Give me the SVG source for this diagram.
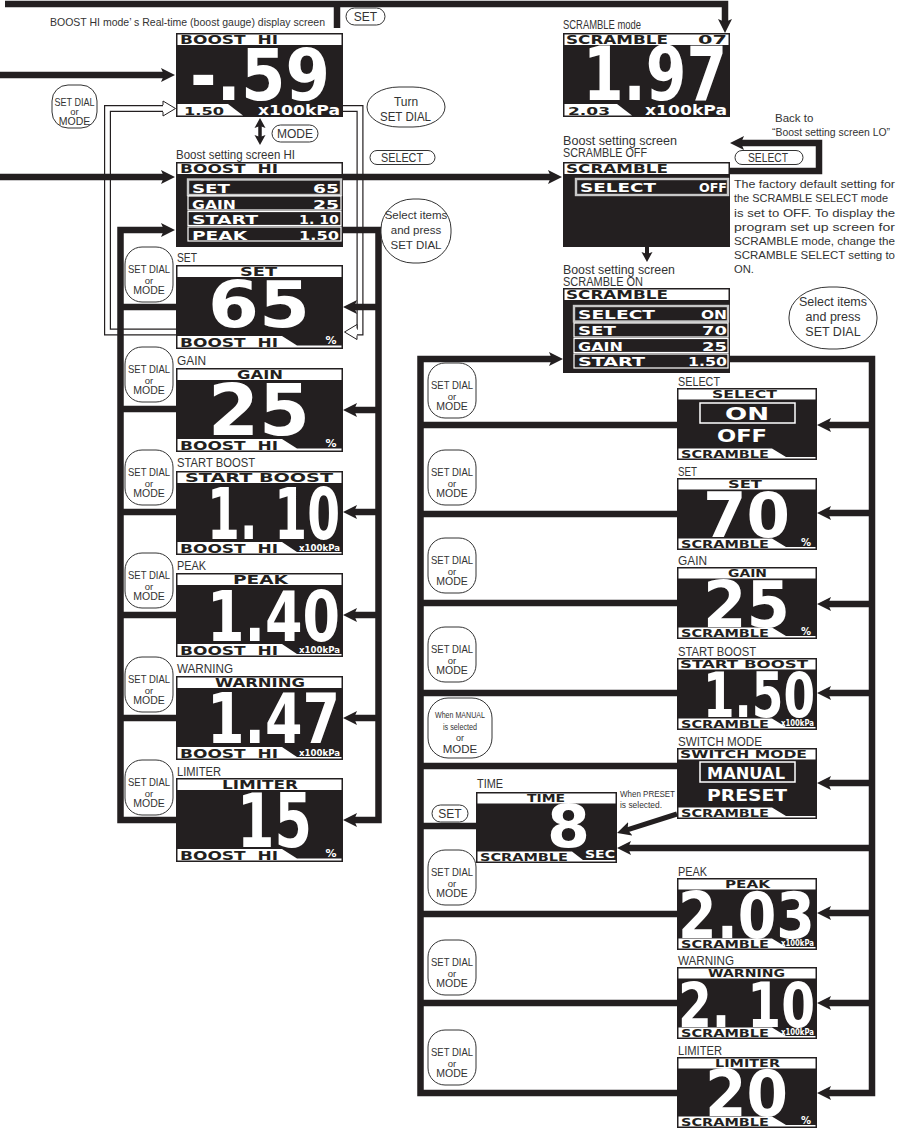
<svg xmlns="http://www.w3.org/2000/svg" width="900" height="1129" viewBox="0 0 900 1129">
<defs>
<style>
.scr{fill:#231f20}
.wh{fill:#fff}
.hk{fill:#231f20}
.lcd{font-family:"DejaVu Sans","Liberation Sans",sans-serif;font-weight:bold}
.big{font-family:"DejaVu Sans","Liberation Sans",sans-serif;font-weight:bold;fill:#fff}
.lb{font-family:"Liberation Sans",Arial,sans-serif;font-size:12px;fill:#333}
.bt{font-family:"Liberation Sans",Arial,sans-serif;font-size:10.5px;fill:#333;text-anchor:middle}
.bub{fill:#fff;stroke:#333;stroke-width:1}
.ln{fill:none;stroke:#231f20;stroke-width:6.5}
.dbo{fill:none;stroke:#231f20;stroke-width:7}
.dbi{fill:none;stroke:#fff;stroke-width:4.6}
.row{fill:#231f20;stroke:#fff;stroke-width:1.2}
.rowh{fill:#231f20;stroke:#c8c8c8;stroke-width:2.4}
.wl{fill:none;stroke:#fff;stroke-width:1.5}
</style>
<marker id="ah" markerUnits="userSpaceOnUse" markerWidth="16" markerHeight="16" viewBox="0 0 16 16" refX="5" refY="8" orient="auto"><path d="M0,1 L14,8 L0,15 L3,8 z" fill="#231f20"/></marker>
<marker id="ahs" markerUnits="userSpaceOnUse" markerWidth="12" markerHeight="12" viewBox="0 0 12 12" refX="4" refY="6" orient="auto-start-reverse"><path d="M0,0.5 L10,6 L0,11.5 L2,6 z" fill="#231f20"/></marker>
<marker id="hah" markerUnits="userSpaceOnUse" markerWidth="15" markerHeight="17" viewBox="0 0 15 17" refX="1" refY="8.5" orient="auto"><path d="M1,5 V1 L13.5,8.5 L1,16 V12" fill="#fff" stroke="#231f20" stroke-width="1"/></marker>
</defs>
<rect width="900" height="1129" fill="#fff"/>

<g id="connectors">
<path class="dbo" d="M176,332 H107.5 V108.5 H163"/>
<path class="dbi" d="M176,332 H107.5 V108.5 H163" marker-end="url(#hah)"/>
<path class="dbo" d="M343,108.5 H360 V332 H357"/>
<path class="dbi" d="M343,108.5 H360 V332 H357" marker-end="url(#hah)"/>
<path class="ln" d="M5,4 H725 V24" marker-end="url(#ah)"/>
<path class="ln" d="M337,4 V28"/>
<path class="ln" d="M0,75 H166" marker-end="url(#ah)"/>
<path class="ln" d="M0,177 H166" marker-end="url(#ah)"/>
<path class="ln" d="M343,177 H553" marker-end="url(#ah)"/>
<path class="ln" d="M176,820 H120.5 V230 H166" marker-end="url(#ah)"/>
<path class="ln" d="M176,307 H120.5 M176,409 H120.5 M176,512 H120.5 M176,615 H120.5 M176,718 H120.5"/>
<path class="ln" d="M343,230 H378.5 V820 H352" marker-end="url(#ah)"/>
<path class="ln" d="M378.5,307 H352" marker-end="url(#ah)"/>
<path class="ln" d="M378.5,410 H352" marker-end="url(#ah)"/>
<path class="ln" d="M378.5,512 H352" marker-end="url(#ah)"/>
<path class="ln" d="M378.5,615 H352" marker-end="url(#ah)"/>
<path class="ln" d="M378.5,718 H352" marker-end="url(#ah)"/>
<path d="M260,124 V139" fill="none" stroke="#231f20" stroke-width="3.5" marker-start="url(#ahs)" marker-end="url(#ahs)"/>
<path class="ln" d="M730,171 H819 V143 H739" marker-end="url(#ah)"/>
<path d="M647,247 V256" fill="none" stroke="#231f20" stroke-width="4" marker-end="url(#ahs)"/>
<path class="ln" d="M677,1093 H420.5 V359 H554" marker-end="url(#ah)"/>
<path class="ln" d="M677,425 H420.5 M677,514 H420.5 M677,603 H420.5 M677,693 H420.5 M677,766 H420.5 M476,826 H420.5 M677,914 H420.5 M677,1003 H420.5"/>
<path class="ln" d="M730,359 H872 V1093 H826" marker-end="url(#ah)"/>
<path class="ln" d="M872,425 H826" marker-end="url(#ah)"/>
<path class="ln" d="M872,513 H826" marker-end="url(#ah)"/>
<path class="ln" d="M872,604 H826" marker-end="url(#ah)"/>
<path class="ln" d="M872,693 H826" marker-end="url(#ah)"/>
<path class="ln" d="M872,783 H826" marker-end="url(#ah)"/>
<path class="ln" d="M872,848 H626" marker-end="url(#ah)"/>
<path class="ln" d="M872,913 H826" marker-end="url(#ah)"/>
<path class="ln" d="M872,1003 H826" marker-end="url(#ah)"/>
<path d="M677,814 L625.6,830.3" fill="none" stroke="#231f20" stroke-width="5" marker-end="url(#ah)"/>
</g>

<g id="caption">
<text class="lb" x="50" y="26" style="font-size:10.5px" textLength="275" lengthAdjust="spacingAndGlyphs">BOOST HI mode’ s Real-time (boost gauge) display screen</text>
</g>

<g id="boost-hi-display">
<g transform="translate(176,33)">
<rect class="scr" width="167" height="84"/>
<rect class="wh" x="1.5" y="1.5" width="164" height="10.5"/>
<text class="lcd hk" x="4" y="11" font-size="11.5" textLength="98" lengthAdjust="spacingAndGlyphs">BOOST&#160;&#160;HI</text>
<text class="big" x="14" y="67" font-size="71" textLength="140" lengthAdjust="spacingAndGlyphs">-.59</text>
<polygon class="wh" points="1.5,71 52,71 67,82.5 1.5,82.5"/>
<text class="lcd hk" x="8" y="81.5" font-size="11" textLength="40" lengthAdjust="spacingAndGlyphs">1.50</text>
<text class="lcd wh" x="82" y="82" font-size="14" textLength="82" lengthAdjust="spacingAndGlyphs">x100kPa</text>
</g>
</g>

<g id="scramble-display">
<text class="lb" x="563" y="29" textLength="78" lengthAdjust="spacingAndGlyphs">SCRAMBLE mode</text>
<g transform="translate(563,33)">
<rect class="scr" width="167" height="84"/>
<rect class="wh" x="1.5" y="1.5" width="164" height="10.5"/>
<text class="lcd hk" x="3" y="11" font-size="11.5" textLength="102" lengthAdjust="spacingAndGlyphs">SCRAMBLE</text>
<text class="lcd hk" x="135" y="11" font-size="11.5" textLength="29" lengthAdjust="spacingAndGlyphs">07</text>
<text class="big" x="20" y="67" font-size="74" textLength="144" lengthAdjust="spacingAndGlyphs">1.97</text>
<polygon class="wh" points="1.5,71 54,71 69,82.5 1.5,82.5"/>
<text class="lcd hk" x="5" y="81.5" font-size="11" textLength="42" lengthAdjust="spacingAndGlyphs">2.03</text>
<text class="lcd wh" x="82" y="82" font-size="14" textLength="82" lengthAdjust="spacingAndGlyphs">x100kPa</text>
</g>
</g>

<g id="boost-setting-hi">
<text class="lb" x="176" y="159" textLength="119" lengthAdjust="spacingAndGlyphs">Boost setting screen HI</text>
<g transform="translate(176,162)">
<rect class="scr" width="167" height="85"/>
<rect class="wh" x="1.5" y="1.5" width="164" height="10.5"/>
<text class="lcd hk" x="4" y="11" font-size="11.5" textLength="98" lengthAdjust="spacingAndGlyphs">BOOST&#160;&#160;HI</text>
<rect class="rowh" x="12" y="17.5" width="153" height="15.5"/>
<text class="lcd wh" x="16" y="31" font-size="12" textLength="38" lengthAdjust="spacingAndGlyphs">SET</text>
<text class="lcd wh" x="137" y="31" font-size="12" textLength="26" lengthAdjust="spacingAndGlyphs">65</text>
<rect class="row" x="12" y="34" width="153" height="14"/>
<text class="lcd wh" x="16" y="46.5" font-size="12" textLength="44" lengthAdjust="spacingAndGlyphs">GAIN</text>
<text class="lcd wh" x="137" y="46.5" font-size="12" textLength="26" lengthAdjust="spacingAndGlyphs">25</text>
<rect class="row" x="12" y="49.5" width="153" height="14"/>
<text class="lcd wh" x="16" y="62" font-size="12" textLength="66" lengthAdjust="spacingAndGlyphs">START</text>
<text class="lcd wh" x="123" y="62" font-size="12" textLength="40" lengthAdjust="spacingAndGlyphs">1. 10</text>
<rect class="row" x="12" y="65" width="153" height="14"/>
<text class="lcd wh" x="16" y="77.5" font-size="12" textLength="55" lengthAdjust="spacingAndGlyphs">PEAK</text>
<text class="lcd wh" x="123" y="77.5" font-size="12" textLength="40" lengthAdjust="spacingAndGlyphs">1.50</text>
</g>
</g>

<g id="set-hi">
<text class="lb" x="177" y="262" textLength="20" lengthAdjust="spacingAndGlyphs">SET</text>
<g transform="translate(176,265)">
<rect class="scr" width="167" height="84"/>
<rect class="wh" x="1.5" y="1.5" width="164" height="10.5"/>
<text class="lcd hk" x="64" y="11" font-size="11.5" textLength="37" lengthAdjust="spacingAndGlyphs">SET</text>
<text class="big" x="32" y="62" font-size="64" textLength="102" lengthAdjust="spacingAndGlyphs">65</text>
<polygon class="wh" points="1.5,71 106,71 121,80.5 165.5,80.5 165.5,82.5 1.5,82.5"/>
<text class="lcd hk" x="4" y="81.5" font-size="11.5" textLength="98" lengthAdjust="spacingAndGlyphs">BOOST&#160;&#160;HI</text>
<text class="lcd wh" x="155" y="79" font-size="11" text-anchor="middle">%</text>
</g>
</g>

<g id="gain-hi">
<text class="lb" x="177" y="364.5" textLength="29" lengthAdjust="spacingAndGlyphs">GAIN</text>
<g transform="translate(176,368)">
<rect class="scr" width="167" height="84"/>
<rect class="wh" x="1.5" y="1.5" width="164" height="10.5"/>
<text class="lcd hk" x="61" y="11" font-size="11.5" textLength="46" lengthAdjust="spacingAndGlyphs">GAIN</text>
<text class="big" x="32" y="67" font-size="71" textLength="102" lengthAdjust="spacingAndGlyphs">25</text>
<polygon class="wh" points="1.5,71 106,71 121,80.5 165.5,80.5 165.5,82.5 1.5,82.5"/>
<text class="lcd hk" x="4" y="81.5" font-size="11.5" textLength="98" lengthAdjust="spacingAndGlyphs">BOOST&#160;&#160;HI</text>
<text class="lcd wh" x="155" y="79" font-size="11" text-anchor="middle">%</text>
</g>
</g>

<g id="start-boost-hi">
<text class="lb" x="177" y="466.5" textLength="78" lengthAdjust="spacingAndGlyphs">START BOOST</text>
<g transform="translate(176,471)">
<rect class="scr" width="167" height="84"/>
<rect class="wh" x="1.5" y="1.5" width="164" height="10.5"/>
<text class="lcd hk" x="9" y="11" font-size="11.5" textLength="148" lengthAdjust="spacingAndGlyphs">START BOOST</text>
<text class="big" x="31" y="68" font-size="71" textLength="133" lengthAdjust="spacingAndGlyphs">1. 10</text>
<polygon class="wh" points="1.5,71 106,71 121,81 165.5,81 165.5,82.5 1.5,82.5"/>
<text class="lcd hk" x="4" y="81.5" font-size="11.5" textLength="98" lengthAdjust="spacingAndGlyphs">BOOST&#160;&#160;HI</text>
<text class="lcd wh" x="123" y="79.5" font-size="9" textLength="41" lengthAdjust="spacingAndGlyphs">x100kPa</text>
</g>
</g>

<g id="peak-hi">
<text class="lb" x="177" y="569.5" textLength="29" lengthAdjust="spacingAndGlyphs">PEAK</text>
<g transform="translate(176,573)">
<rect class="scr" width="167" height="84"/>
<rect class="wh" x="1.5" y="1.5" width="164" height="10.5"/>
<text class="lcd hk" x="57" y="11" font-size="11.5" textLength="55" lengthAdjust="spacingAndGlyphs">PEAK</text>
<text class="big" x="31" y="68" font-size="70" textLength="133" lengthAdjust="spacingAndGlyphs">1.40</text>
<polygon class="wh" points="1.5,71 106,71 121,81 165.5,81 165.5,82.5 1.5,82.5"/>
<text class="lcd hk" x="4" y="81.5" font-size="11.5" textLength="98" lengthAdjust="spacingAndGlyphs">BOOST&#160;&#160;HI</text>
<text class="lcd wh" x="123" y="79.5" font-size="9" textLength="41" lengthAdjust="spacingAndGlyphs">x100kPa</text>
</g>
</g>

<g id="warning-hi">
<text class="lb" x="177" y="672.5" textLength="56" lengthAdjust="spacingAndGlyphs">WARNING</text>
<g transform="translate(176,676)">
<rect class="scr" width="167" height="84"/>
<rect class="wh" x="1.5" y="1.5" width="164" height="10.5"/>
<text class="lcd hk" x="39" y="11" font-size="11.5" textLength="90" lengthAdjust="spacingAndGlyphs">WARNING</text>
<text class="big" x="31" y="67" font-size="70" textLength="133" lengthAdjust="spacingAndGlyphs">1.47</text>
<polygon class="wh" points="1.5,71 106,71 121,81 165.5,81 165.5,82.5 1.5,82.5"/>
<text class="lcd hk" x="4" y="81.5" font-size="11.5" textLength="98" lengthAdjust="spacingAndGlyphs">BOOST&#160;&#160;HI</text>
<text class="lcd wh" x="123" y="79.5" font-size="9" textLength="41" lengthAdjust="spacingAndGlyphs">x100kPa</text>
</g>
</g>

<g id="limiter-hi">
<text class="lb" x="177" y="775.5" textLength="44" lengthAdjust="spacingAndGlyphs">LIMITER</text>
<g transform="translate(176,778)">
<rect class="scr" width="167" height="84"/>
<rect class="wh" x="1.5" y="1.5" width="164" height="10.5"/>
<text class="lcd hk" x="46" y="11" font-size="11.5" textLength="76" lengthAdjust="spacingAndGlyphs">LIMITER</text>
<text class="big" x="61" y="69" font-size="74" textLength="75" lengthAdjust="spacingAndGlyphs">15</text>
<polygon class="wh" points="1.5,71 106,71 121,80.5 165.5,80.5 165.5,82.5 1.5,82.5"/>
<text class="lcd hk" x="4" y="81.5" font-size="11.5" textLength="98" lengthAdjust="spacingAndGlyphs">BOOST&#160;&#160;HI</text>
<text class="lcd wh" x="155" y="79" font-size="11" text-anchor="middle">%</text>
</g>
</g>

<g id="scramble-off">
<text class="lb" x="563" y="145" textLength="114" lengthAdjust="spacingAndGlyphs">Boost setting screen</text>
<text class="lb" x="563" y="157" textLength="84" lengthAdjust="spacingAndGlyphs">SCRAMBLE   OFF</text>
<g transform="translate(563,162)">
<rect class="scr" width="167" height="85"/>
<rect class="wh" x="1.5" y="1.5" width="164" height="10.5"/>
<text class="lcd hk" x="3" y="11" font-size="11.5" textLength="102" lengthAdjust="spacingAndGlyphs">SCRAMBLE</text>
<rect class="rowh" x="13" y="17" width="152" height="16"/>
<text class="lcd wh" x="17" y="30" font-size="12.5" textLength="76" lengthAdjust="spacingAndGlyphs">SELECT</text>
<text class="lcd wh" x="136" y="30" font-size="12.5" textLength="28" lengthAdjust="spacingAndGlyphs">OFF</text>
</g>
</g>

<g id="scramble-note">
<text class="lb" style="font-size:11.5px" x="734" y="188" textLength="161" lengthAdjust="spacingAndGlyphs">The factory default setting for</text>
<text class="lb" style="font-size:11.5px" x="734" y="202" textLength="154" lengthAdjust="spacingAndGlyphs">the SCRAMBLE SELECT mode</text>
<text class="lb" style="font-size:11.5px" x="734" y="216.5" textLength="161" lengthAdjust="spacingAndGlyphs">is set to OFF.   To display the</text>
<text class="lb" style="font-size:11.5px" x="734" y="230.5" textLength="161" lengthAdjust="spacingAndGlyphs">program set up screen for</text>
<text class="lb" style="font-size:11.5px" x="734" y="245" textLength="161" lengthAdjust="spacingAndGlyphs">SCRAMBLE mode, change the</text>
<text class="lb" style="font-size:11.5px" x="734" y="259" textLength="161" lengthAdjust="spacingAndGlyphs">SCRAMBLE SELECT setting to</text>
<text class="lb" style="font-size:11.5px" x="734" y="273" textLength="20" lengthAdjust="spacingAndGlyphs">ON.</text>
</g>

<g id="back-to-lo">
<text class="lb" style="font-size:11.5px" x="775" y="122">Back to</text>
<text class="lb" style="font-size:10.8px" x="772" y="136" textLength="118" lengthAdjust="spacingAndGlyphs">“Boost setting screen LO”</text>
</g>

<g id="scramble-on">
<text class="lb" x="563" y="274" textLength="112" lengthAdjust="spacingAndGlyphs">Boost setting screen</text>
<text class="lb" x="563" y="286" textLength="80" lengthAdjust="spacingAndGlyphs">SCRAMBLE   ON</text>
<g transform="translate(563,288)">
<rect class="scr" width="167" height="85"/>
<rect class="wh" x="1.5" y="1.5" width="164" height="10.5"/>
<text class="lcd hk" x="3" y="11" font-size="11.5" textLength="102" lengthAdjust="spacingAndGlyphs">SCRAMBLE</text>
<rect class="rowh" x="11" y="18" width="154" height="15.5"/>
<text class="lcd wh" x="15" y="31" font-size="12" textLength="77" lengthAdjust="spacingAndGlyphs">SELECT</text>
<text class="lcd wh" x="138" y="31" font-size="12" textLength="26" lengthAdjust="spacingAndGlyphs">ON</text>
<rect class="row" x="11" y="35" width="154" height="14"/>
<text class="lcd wh" x="15" y="47" font-size="12" textLength="38" lengthAdjust="spacingAndGlyphs">SET</text>
<text class="lcd wh" x="139" y="47" font-size="12" textLength="25" lengthAdjust="spacingAndGlyphs">70</text>
<rect class="row" x="11" y="50.5" width="154" height="14"/>
<text class="lcd wh" x="15" y="62.5" font-size="12" textLength="45" lengthAdjust="spacingAndGlyphs">GAIN</text>
<text class="lcd wh" x="139" y="62.5" font-size="12" textLength="25" lengthAdjust="spacingAndGlyphs">25</text>
<rect class="row" x="11" y="66" width="154" height="14"/>
<text class="lcd wh" x="15" y="78" font-size="12" textLength="67" lengthAdjust="spacingAndGlyphs">START</text>
<text class="lcd wh" x="125" y="78" font-size="12" textLength="39" lengthAdjust="spacingAndGlyphs">1.50</text>
</g>
</g>

<g id="select-scramble">
<text class="lb" x="678" y="386" textLength="42" lengthAdjust="spacingAndGlyphs">SELECT</text>
<g transform="translate(677,388)">
<rect class="scr" width="140" height="72"/>
<rect class="wh" x="1.5" y="1.5" width="137" height="10"/>
<text class="lcd hk" x="35" y="10" font-size="10.5" textLength="65" lengthAdjust="spacingAndGlyphs">SELECT</text>
<rect class="wl" x="23" y="15" width="95" height="20"/>
<text class="lcd wh" x="48" y="32" font-size="17" textLength="44" lengthAdjust="spacingAndGlyphs">ON</text>
<text class="lcd wh" x="40" y="54" font-size="17" textLength="50" lengthAdjust="spacingAndGlyphs">OFF</text>
<polygon class="wh" points="1.5,60.5 95,60.5 109,69 138.5,69 138.5,70.5 1.5,70.5"/>
<text class="lcd hk" x="4" y="69.5" font-size="10.5" textLength="88" lengthAdjust="spacingAndGlyphs">SCRAMBLE</text>
</g>
</g>

<g id="set-scramble">
<text class="lb" x="678" y="476" textLength="19" lengthAdjust="spacingAndGlyphs">SET</text>
<g transform="translate(677,478)">
<rect class="scr" width="140" height="72"/>
<rect class="wh" x="1.5" y="1.5" width="137" height="10"/>
<text class="lcd hk" x="51" y="10" font-size="10.5" textLength="34" lengthAdjust="spacingAndGlyphs">SET</text>
<text class="big" x="26" y="59" font-size="62" textLength="87" lengthAdjust="spacingAndGlyphs">70</text>
<polygon class="wh" points="1.5,60.5 95,60.5 109,69 138.5,69 138.5,70.5 1.5,70.5"/>
<text class="lcd hk" x="4" y="69.5" font-size="10.5" textLength="88" lengthAdjust="spacingAndGlyphs">SCRAMBLE</text>
<text class="lcd wh" x="129" y="67.5" font-size="10" text-anchor="middle">%</text>
</g>
</g>

<g id="gain-scramble">
<text class="lb" x="678" y="565" textLength="29" lengthAdjust="spacingAndGlyphs">GAIN</text>
<g transform="translate(677,567)">
<rect class="scr" width="140" height="72"/>
<rect class="wh" x="1.5" y="1.5" width="137" height="10"/>
<text class="lcd hk" x="51" y="10" font-size="10.5" textLength="39" lengthAdjust="spacingAndGlyphs">GAIN</text>
<text class="big" x="26" y="59.5" font-size="64" textLength="87" lengthAdjust="spacingAndGlyphs">25</text>
<polygon class="wh" points="1.5,60.5 95,60.5 109,69 138.5,69 138.5,70.5 1.5,70.5"/>
<text class="lcd hk" x="4" y="69.5" font-size="10.5" textLength="88" lengthAdjust="spacingAndGlyphs">SCRAMBLE</text>
<text class="lcd wh" x="129" y="67.5" font-size="10" text-anchor="middle">%</text>
</g>
</g>

<g id="start-boost-scramble">
<text class="lb" x="678" y="655.5" textLength="78" lengthAdjust="spacingAndGlyphs">START BOOST</text>
<g transform="translate(677,658)">
<rect class="scr" width="140" height="72"/>
<rect class="wh" x="1.5" y="1.5" width="137" height="10"/>
<text class="lcd hk" x="3" y="10" font-size="10.5" textLength="128" lengthAdjust="spacingAndGlyphs">START BOOST</text>
<text class="big" x="26" y="58.5" font-size="63" textLength="112" lengthAdjust="spacingAndGlyphs">1.50</text>
<polygon class="wh" points="1.5,60.5 95,60.5 109,69 138.5,69 138.5,70.5 1.5,70.5"/>
<text class="lcd hk" x="4" y="69.5" font-size="10.5" textLength="88" lengthAdjust="spacingAndGlyphs">SCRAMBLE</text>
<text class="lcd wh" x="104" y="68" font-size="8" textLength="33" lengthAdjust="spacingAndGlyphs">x100kPa</text>
</g>
</g>

<g id="switch-mode-scramble">
<text class="lb" x="678" y="745.5" textLength="84" lengthAdjust="spacingAndGlyphs">SWITCH MODE</text>
<g transform="translate(677,748)">
<rect class="scr" width="140" height="71"/>
<rect class="wh" x="1.5" y="1.5" width="137" height="10"/>
<text class="lcd hk" x="3" y="10" font-size="10.5" textLength="127" lengthAdjust="spacingAndGlyphs">SWITCH MODE</text>
<rect class="wl" x="23" y="14" width="95" height="20"/>
<text class="lcd wh" x="30" y="31" font-size="15" textLength="78" lengthAdjust="spacingAndGlyphs">MANUAL</text>
<text class="lcd wh" x="30" y="53" font-size="16" textLength="80" lengthAdjust="spacingAndGlyphs">PRESET</text>
<polygon class="wh" points="1.5,59.5 95,59.5 109,68 138.5,68 138.5,69.5 1.5,69.5"/>
<text class="lcd hk" x="4" y="68.5" font-size="10.5" textLength="88" lengthAdjust="spacingAndGlyphs">SCRAMBLE</text>
</g>
</g>

<g id="time-scramble">
<text class="lb" x="477" y="787.5" textLength="26" lengthAdjust="spacingAndGlyphs">TIME</text>
<g transform="translate(476,792)">
<rect class="scr" width="141" height="71"/>
<rect class="wh" x="1.5" y="1.5" width="138" height="10"/>
<text class="lcd hk" x="51" y="10" font-size="10.5" textLength="38" lengthAdjust="spacingAndGlyphs">TIME</text>
<text class="big" x="71" y="55" font-size="58" textLength="43" lengthAdjust="spacingAndGlyphs">8</text>
<polygon class="wh" points="1.5,59.5 96,59.5 107,68 139.5,68 139.5,69.5 1.5,69.5"/>
<text class="lcd hk" x="4" y="69" font-size="10.5" textLength="88" lengthAdjust="spacingAndGlyphs">SCRAMBLE</text>
<text class="lcd wh" x="109" y="65.5" font-size="10" textLength="30" lengthAdjust="spacingAndGlyphs">SEC</text>
</g>
</g>

<g id="when-preset-note">
<text class="lb" style="font-size:9.5px" x="620" y="797" textLength="55" lengthAdjust="spacingAndGlyphs">When PRESET</text>
<text class="lb" style="font-size:9.5px" x="620" y="808" textLength="42" lengthAdjust="spacingAndGlyphs">is selected.</text>
</g>

<g id="peak-scramble">
<text class="lb" x="678" y="876" textLength="29" lengthAdjust="spacingAndGlyphs">PEAK</text>
<g transform="translate(677,878)">
<rect class="scr" width="140" height="72"/>
<rect class="wh" x="1.5" y="1.5" width="137" height="10"/>
<text class="lcd hk" x="48" y="10" font-size="10.5" textLength="45" lengthAdjust="spacingAndGlyphs">PEAK</text>
<text class="big" x="1" y="59.5" font-size="64" textLength="137" lengthAdjust="spacingAndGlyphs">2.03</text>
<polygon class="wh" points="1.5,60.5 95,60.5 109,69 138.5,69 138.5,70.5 1.5,70.5"/>
<text class="lcd hk" x="4" y="69.5" font-size="10.5" textLength="88" lengthAdjust="spacingAndGlyphs">SCRAMBLE</text>
<text class="lcd wh" x="104" y="68" font-size="8" textLength="33" lengthAdjust="spacingAndGlyphs">x100kPa</text>
</g>
</g>

<g id="warning-scramble">
<text class="lb" x="678" y="965" textLength="56" lengthAdjust="spacingAndGlyphs">WARNING</text>
<g transform="translate(677,967)">
<rect class="scr" width="140" height="72"/>
<rect class="wh" x="1.5" y="1.5" width="137" height="10"/>
<text class="lcd hk" x="31" y="10" font-size="10.5" textLength="77" lengthAdjust="spacingAndGlyphs">WARNING</text>
<text class="big" x="1" y="59.5" font-size="62" textLength="137" lengthAdjust="spacingAndGlyphs">2. 10</text>
<polygon class="wh" points="1.5,60.5 95,60.5 109,69 138.5,69 138.5,70.5 1.5,70.5"/>
<text class="lcd hk" x="4" y="69.5" font-size="10.5" textLength="88" lengthAdjust="spacingAndGlyphs">SCRAMBLE</text>
<text class="lcd wh" x="104" y="68" font-size="8" textLength="33" lengthAdjust="spacingAndGlyphs">x100kPa</text>
</g>
</g>

<g id="limiter-scramble">
<text class="lb" x="678" y="1055" textLength="44" lengthAdjust="spacingAndGlyphs">LIMITER</text>
<g transform="translate(677,1057)">
<rect class="scr" width="140" height="71"/>
<rect class="wh" x="1.5" y="1.5" width="137" height="10"/>
<text class="lcd hk" x="38" y="10" font-size="10.5" textLength="65" lengthAdjust="spacingAndGlyphs">LIMITER</text>
<text class="big" x="28" y="59" font-size="64" textLength="83" lengthAdjust="spacingAndGlyphs">20</text>
<polygon class="wh" points="1.5,59.5 95,59.5 109,68 138.5,68 138.5,69.5 1.5,69.5"/>
<text class="lcd hk" x="4" y="68.5" font-size="10.5" textLength="88" lengthAdjust="spacingAndGlyphs">SCRAMBLE</text>
<text class="lcd wh" x="129" y="66.5" font-size="10" text-anchor="middle">%</text>
</g>
</g>

<g id="btn-set-top"><rect class="bub" x="346" y="8" width="39" height="17" rx="8.5"/><text class="bt" x="365.5" y="21" style="font-size:12px">SET</text></g>
<g id="btn-mode"><rect class="bub" x="272" y="125" width="46" height="17" rx="8.5"/><text class="bt" x="295" y="138" style="font-size:12px">MODE</text></g>
<g id="btn-select-left"><rect class="bub" x="370" y="150.5" width="65" height="14" rx="7"/><text class="lb" x="381" y="162" textLength="42" lengthAdjust="spacingAndGlyphs">SELECT</text></g>
<g id="btn-select-right"><rect class="bub" x="735" y="150.5" width="68" height="14" rx="7"/><text class="lb" x="748" y="162" textLength="40" lengthAdjust="spacingAndGlyphs">SELECT</text></g>
<g id="btn-set-time"><rect class="bub" x="432" y="805" width="36" height="17" rx="8.5"/><text class="bt" x="450" y="818" style="font-size:12px">SET</text></g>

<g id="bubble-turn"><rect class="bub" x="367" y="87" width="78" height="40" rx="32" ry="20"/><text class="bt" x="406" y="106" style="font-size:12px">Turn</text><text class="lb" x="380" y="121" textLength="51" lengthAdjust="spacingAndGlyphs">SET DIAL</text></g>
<g id="bubble-select-items-left"><rect class="bub" x="381" y="199" width="70" height="64" rx="32" ry="30"/><text class="bt" x="416" y="219" style="font-size:11.5px">Select items</text><text class="bt" x="416" y="234" style="font-size:11.5px">and press</text><text class="bt" x="416" y="249" style="font-size:11.5px">SET DIAL</text></g>
<g id="bubble-select-items-right"><rect class="bub" x="789" y="287" width="88" height="62" rx="40" ry="30"/><text class="bt" x="833" y="306" style="font-size:12.5px">Select items</text><text class="bt" x="833" y="321" style="font-size:12.5px">and press</text><text class="bt" x="833" y="336" style="font-size:12.5px">SET DIAL</text></g>

<g id="bubble-main"><rect class="bub" x="52" y="85" width="45" height="43" rx="16"/><text class="lb" x="54.5" y="105.5" style="font-size:10.5px" textLength="40" lengthAdjust="spacingAndGlyphs">SET DIAL</text><text class="bt" x="74.5" y="115" style="font-size:9.5px">or</text><text class="bt" x="74.5" y="125">MODE</text></g>

<g id="bubble-l1"><rect class="bub" x="125" y="247" width="48" height="55" rx="17"/><text class="lb" x="128" y="273" style="font-size:10.5px" textLength="42" lengthAdjust="spacingAndGlyphs">SET DIAL</text><text class="bt" x="149" y="283.5" style="font-size:9.5px">or</text><text class="bt" x="149" y="294">MODE</text></g>
<g id="bubble-l2"><rect class="bub" x="125" y="347" width="48" height="55" rx="17"/><text class="lb" x="128" y="373" style="font-size:10.5px" textLength="42" lengthAdjust="spacingAndGlyphs">SET DIAL</text><text class="bt" x="149" y="383.5" style="font-size:9.5px">or</text><text class="bt" x="149" y="394">MODE</text></g>
<g id="bubble-l3"><rect class="bub" x="125" y="450" width="48" height="55" rx="17"/><text class="lb" x="128" y="476" style="font-size:10.5px" textLength="42" lengthAdjust="spacingAndGlyphs">SET DIAL</text><text class="bt" x="149" y="486.5" style="font-size:9.5px">or</text><text class="bt" x="149" y="497">MODE</text></g>
<g id="bubble-l4"><rect class="bub" x="125" y="553" width="48" height="55" rx="17"/><text class="lb" x="128" y="579" style="font-size:10.5px" textLength="42" lengthAdjust="spacingAndGlyphs">SET DIAL</text><text class="bt" x="149" y="589.5" style="font-size:9.5px">or</text><text class="bt" x="149" y="600">MODE</text></g>
<g id="bubble-l5"><rect class="bub" x="125" y="657" width="48" height="55" rx="17"/><text class="lb" x="128" y="683" style="font-size:10.5px" textLength="42" lengthAdjust="spacingAndGlyphs">SET DIAL</text><text class="bt" x="149" y="693.5" style="font-size:9.5px">or</text><text class="bt" x="149" y="704">MODE</text></g>
<g id="bubble-l6"><rect class="bub" x="125" y="760" width="48" height="55" rx="17"/><text class="lb" x="128" y="786" style="font-size:10.5px" textLength="42" lengthAdjust="spacingAndGlyphs">SET DIAL</text><text class="bt" x="149" y="796.5" style="font-size:9.5px">or</text><text class="bt" x="149" y="807">MODE</text></g>

<g id="bubble-r1"><rect class="bub" x="428" y="363" width="48" height="55" rx="17"/><text class="lb" x="431" y="389" style="font-size:10.5px" textLength="42" lengthAdjust="spacingAndGlyphs">SET DIAL</text><text class="bt" x="452" y="399.5" style="font-size:9.5px">or</text><text class="bt" x="452" y="410">MODE</text></g>
<g id="bubble-r2"><rect class="bub" x="428" y="450" width="48" height="55" rx="17"/><text class="lb" x="431" y="476" style="font-size:10.5px" textLength="42" lengthAdjust="spacingAndGlyphs">SET DIAL</text><text class="bt" x="452" y="486.5" style="font-size:9.5px">or</text><text class="bt" x="452" y="497">MODE</text></g>
<g id="bubble-r3"><rect class="bub" x="428" y="538" width="48" height="55" rx="17"/><text class="lb" x="431" y="564" style="font-size:10.5px" textLength="42" lengthAdjust="spacingAndGlyphs">SET DIAL</text><text class="bt" x="452" y="574.5" style="font-size:9.5px">or</text><text class="bt" x="452" y="585">MODE</text></g>
<g id="bubble-r4"><rect class="bub" x="428" y="627" width="48" height="55" rx="17"/><text class="lb" x="431" y="653" style="font-size:10.5px" textLength="42" lengthAdjust="spacingAndGlyphs">SET DIAL</text><text class="bt" x="452" y="663.5" style="font-size:9.5px">or</text><text class="bt" x="452" y="674">MODE</text></g>
<g id="bubble-r5"><rect class="bub" x="428" y="698" width="64" height="60" rx="20"/><text class="lb" x="435" y="718" style="font-size:9.5px" textLength="50" lengthAdjust="spacingAndGlyphs">When MANUAL</text><text class="lb" x="443" y="730" style="font-size:9.5px" textLength="34" lengthAdjust="spacingAndGlyphs">is selected</text><text class="bt" x="460" y="741" style="font-size:9px">or</text><text class="bt" x="460" y="753" style="font-size:11.5px">MODE</text></g>
<g id="bubble-r6"><rect class="bub" x="428" y="850" width="48" height="55" rx="17"/><text class="lb" x="431" y="876" style="font-size:10.5px" textLength="42" lengthAdjust="spacingAndGlyphs">SET DIAL</text><text class="bt" x="452" y="886.5" style="font-size:9.5px">or</text><text class="bt" x="452" y="897">MODE</text></g>
<g id="bubble-r7"><rect class="bub" x="428" y="940" width="48" height="55" rx="17"/><text class="lb" x="431" y="966" style="font-size:10.5px" textLength="42" lengthAdjust="spacingAndGlyphs">SET DIAL</text><text class="bt" x="452" y="976.5" style="font-size:9.5px">or</text><text class="bt" x="452" y="987">MODE</text></g>
<g id="bubble-r8"><rect class="bub" x="428" y="1030" width="48" height="55" rx="17"/><text class="lb" x="431" y="1056" style="font-size:10.5px" textLength="42" lengthAdjust="spacingAndGlyphs">SET DIAL</text><text class="bt" x="452" y="1066.5" style="font-size:9.5px">or</text><text class="bt" x="452" y="1077">MODE</text></g>
</svg>
